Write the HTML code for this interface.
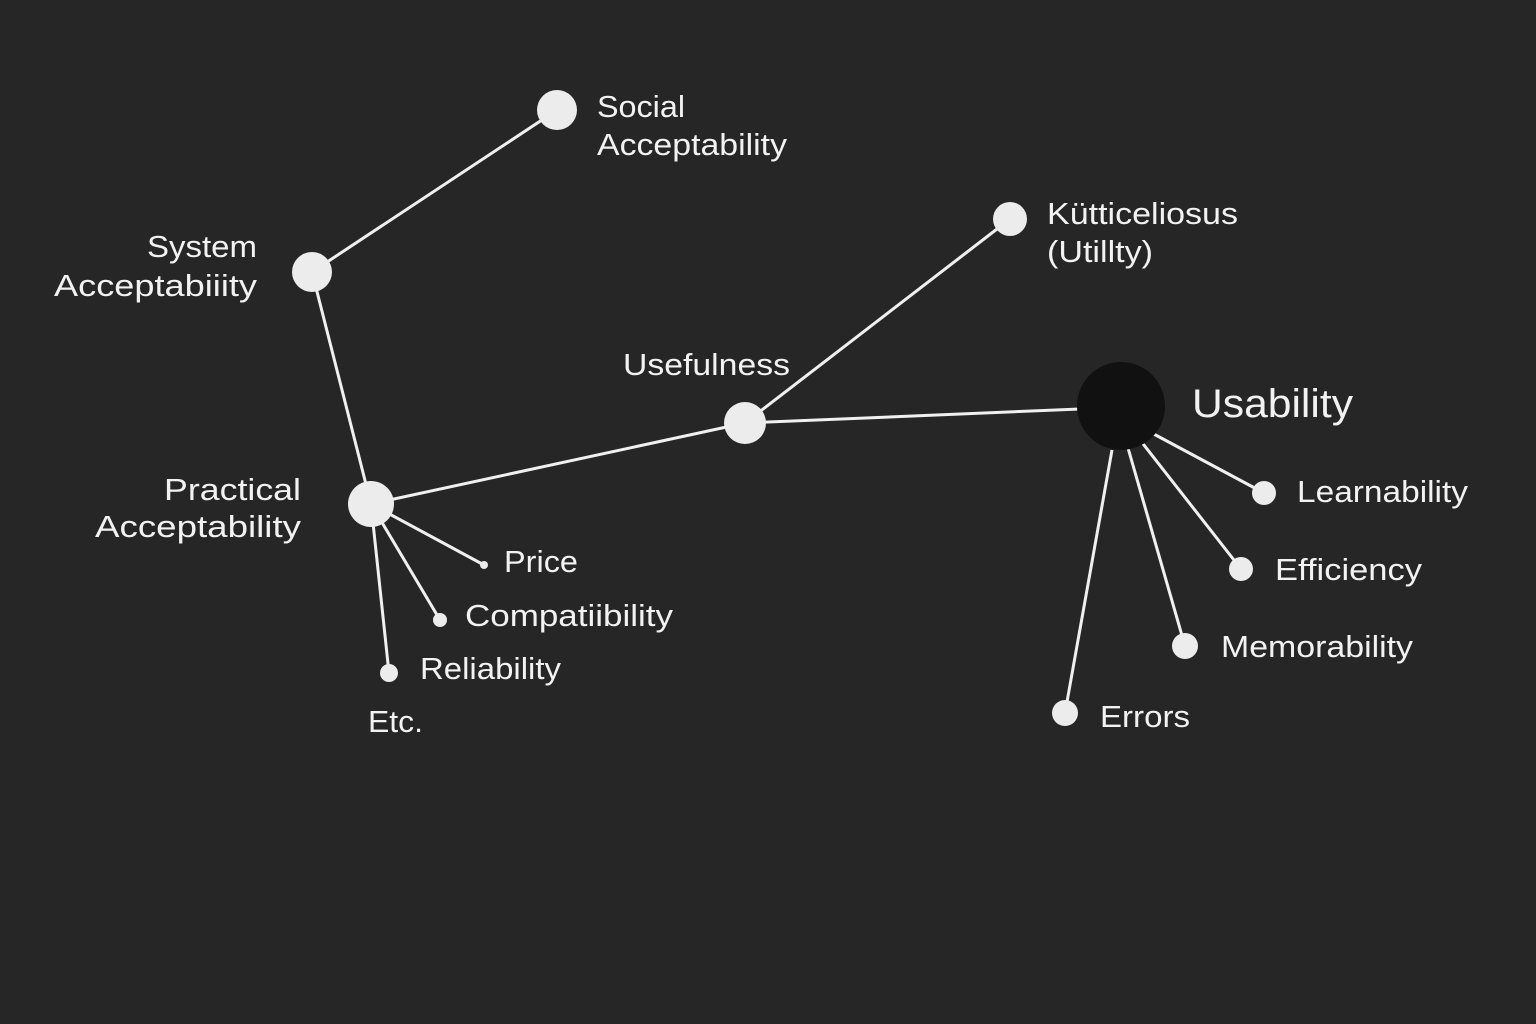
<!DOCTYPE html>
<html><head><meta charset="utf-8"><style>
html,body{margin:0;padding:0;background:#262626;}
svg{display:block}
text{font-family:"Liberation Sans",sans-serif;fill:#f2f2f2;font-size:31px}
</style></head><body>
<svg width="1536" height="1024" viewBox="0 0 1536 1024">
<rect width="1536" height="1024" fill="#262626"/>
<g stroke="#f0f0f0" stroke-width="3" fill="none">
<line x1="557" y1="110" x2="312" y2="272"/>
<line x1="312" y1="272" x2="371" y2="504"/>
<line x1="371" y1="504" x2="745" y2="423"/>
<line x1="745" y1="423" x2="1010" y2="219"/>
<line x1="745" y1="423" x2="1080" y2="409"/>
<line x1="371" y1="504" x2="484" y2="565"/>
<line x1="371" y1="504" x2="440" y2="620"/>
<line x1="371" y1="504" x2="389" y2="673"/>
<line x1="1150" y1="432" x2="1264" y2="493"/>
<line x1="1140" y1="440" x2="1241" y2="569"/>
<line x1="1128" y1="448" x2="1185" y2="646"/>
<line x1="1112" y1="450" x2="1065" y2="713"/>
</g>
<g fill="#ececec">
<circle cx="557" cy="110" r="20"/>
<circle cx="312" cy="272" r="20"/>
<circle cx="371" cy="504" r="23"/>
<circle cx="745" cy="423" r="21"/>
<circle cx="1010" cy="219" r="17"/>
<circle cx="1264" cy="493" r="12"/>
<circle cx="1241" cy="569" r="12"/>
<circle cx="1185" cy="646" r="13"/>
<circle cx="1065" cy="713" r="13"/>
<circle cx="484" cy="565" r="4"/>
<circle cx="440" cy="620" r="7"/>
<circle cx="389" cy="673" r="9"/>
</g>
<circle cx="1121" cy="406" r="44" fill="#111111"/>
<g>
<text x="597" y="117" textLength="88" lengthAdjust="spacingAndGlyphs">Social</text>
<text x="597" y="155" textLength="190" lengthAdjust="spacingAndGlyphs">Acceptability</text>
<text x="147" y="257" textLength="110" lengthAdjust="spacingAndGlyphs">System</text>
<text x="54" y="296" textLength="203" lengthAdjust="spacingAndGlyphs">Acceptabiiity</text>
<text x="623" y="375" textLength="167" lengthAdjust="spacingAndGlyphs">Usefulness</text>
<text x="1047" y="224" textLength="191" lengthAdjust="spacingAndGlyphs">Kütticeliosus</text>
<text x="1047" y="262" textLength="106" lengthAdjust="spacingAndGlyphs">(Utillty)</text>
<text x="1192" y="417" style="font-size:40px" textLength="161" lengthAdjust="spacingAndGlyphs">Usability</text>
<text x="164" y="500" textLength="137" lengthAdjust="spacingAndGlyphs">Practical</text>
<text x="95" y="537" textLength="206" lengthAdjust="spacingAndGlyphs">Acceptability</text>
<text x="504" y="572" textLength="74" lengthAdjust="spacingAndGlyphs">Price</text>
<text x="465" y="626" textLength="208" lengthAdjust="spacingAndGlyphs">Compatiibility</text>
<text x="420" y="679" textLength="141" lengthAdjust="spacingAndGlyphs">Reliability</text>
<text x="368" y="732" textLength="55" lengthAdjust="spacingAndGlyphs">Etc.</text>
<text x="1297" y="502" textLength="171" lengthAdjust="spacingAndGlyphs">Learnability</text>
<text x="1275" y="580" textLength="147" lengthAdjust="spacingAndGlyphs">Efficiency</text>
<text x="1221" y="657" textLength="192" lengthAdjust="spacingAndGlyphs">Memorability</text>
<text x="1100" y="727" textLength="90" lengthAdjust="spacingAndGlyphs">Errors</text>
</g>
</svg>
</body></html>
